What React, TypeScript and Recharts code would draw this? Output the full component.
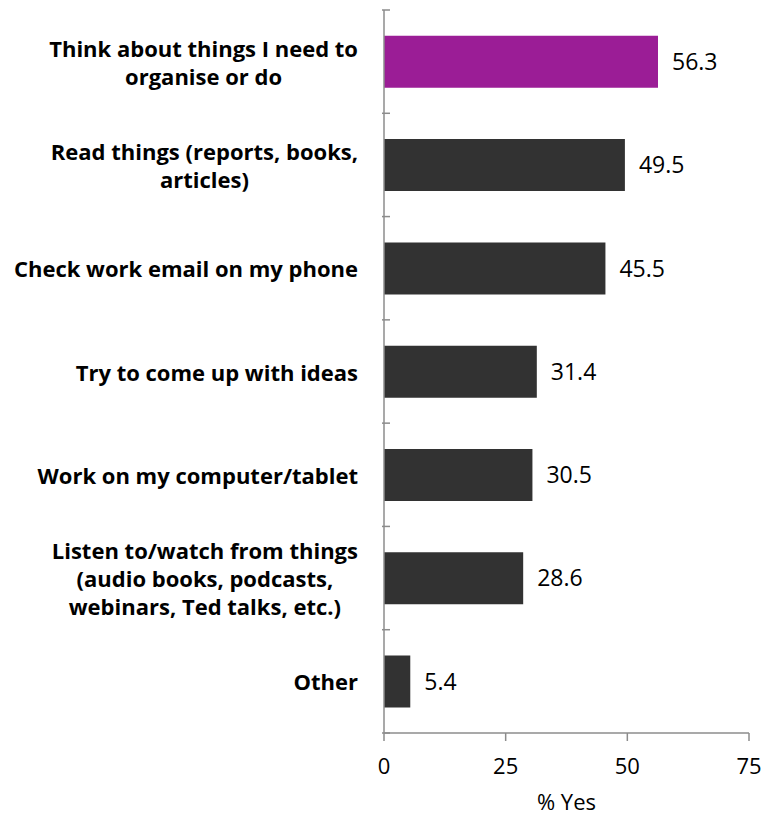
import React from "react";
import { BarChart, Bar, XAxis, YAxis, Cell, LabelList } from "recharts";

const categories = [
  "Think about things I need to\norganise or do",
  "Read things (reports, books,\narticles)",
  "Check work email on my phone",
  "Try to come up with ideas",
  "Work on my computer/tablet",
  "Listen to/watch from things\n(audio books, podcasts,\nwebinars, Ted talks, etc.)",
  "Other",
];
const values = [56.3, 49.5, 45.5, 31.4, 30.5, 28.6, 5.4];
const highlight = [true, false, false, false, false, false, false];
const xTicks = [0, 25, 50, 75];

const data = categories.map((c, i) => ({ name: c, value: values[i], hl: highlight[i] }));

const W = 764;
const H = 819;
const M = { top: 10, right: 15, bottom: 0, left: 0 };
const XH = 86;
const YW = 384;
const FONT = "'Open Sans', Lato, sans-serif";
const AXIS = "#8c8c8c";
const PURPLE = "#9b1d96";
const DARK = "#323232";

let ctx: CanvasRenderingContext2D | null = null;
function measure(t: string, font: string) {
  if (!ctx) {
    const c = document.createElement("canvas");
    ctx = c.getContext("2d");
  }
  if (!ctx) return t.length * 10;
  ctx.font = font;
  return ctx.measureText(t).width;
}

const LABEL_SIZE = 22;
const LINE_H = 28;
const plotH = H - M.top - M.bottom - XH;
const band = plotH / categories.length;

const YTick = (props: any) => {
  const { x, y, payload, index } = props;
  const lines = String(payload.value).split("\n");
  const font = `bold ${LABEL_SIZE}px ${FONT}`;
  const maxW = Math.max(...lines.map((l) => measure(l, font)));
  const rightEdge = x - 24;
  const cx = rightEdge - maxW / 2;
  const startY = y - ((lines.length - 1) * LINE_H) / 2;
  const axisX = x + 8;
  return (
    <g>
      <line x1={axisX - 8} x2={axisX} y1={y - band / 2} y2={y - band / 2} stroke={AXIS} strokeWidth={1.5} />
      {index === categories.length - 1 && (
        <line x1={axisX - 8} x2={axisX} y1={y + band / 2} y2={y + band / 2} stroke={AXIS} strokeWidth={1.5} />
      )}
      <text
        x={cx}
        y={startY}
        textAnchor="middle"
        dominantBaseline="central"
        fontFamily={FONT}
        fontWeight="bold"
        fontSize={LABEL_SIZE}
        fill="#000"
      >
        {lines.map((l, i) => (
          <tspan key={i} x={cx} y={startY + i * LINE_H} dominantBaseline="central">
            {l}
          </tspan>
        ))}
      </text>
    </g>
  );
};

export default function App() {
  return (
    <div style={{ position: "absolute", left: 0, top: 0, width: W, height: H, background: "#fff" }}>
      <BarChart width={W} height={H} data={data} layout="vertical" margin={M} barCategoryGap="25%">
        <XAxis
          type="number"
          domain={[0, 75]}
          ticks={xTicks}
          height={XH}
          stroke={AXIS}
          strokeWidth={1.5}
          tickSize={8}
          tickMargin={17}
          tick={{ fill: "#000", fontSize: 22, fontFamily: FONT }}
          label={{ value: "% Yes", position: "insideBottom", offset: 9, fill: "#000", fontSize: 22, fontFamily: FONT }}
        />
        <YAxis
          type="category"
          dataKey="name"
          width={YW}
          stroke={AXIS}
          strokeWidth={1.5}
          tickLine={false}
          tickSize={0}
          interval={0}
          tick={<YTick />}
        />
        <Bar dataKey="value" isAnimationActive={false}>
          {data.map((d, i) => (
            <Cell key={i} fill={d.hl ? PURPLE : DARK} />
          ))}
          <LabelList dataKey="value" position="right" offset={14} fill="#000" fontSize={23} fontFamily={FONT} />
        </Bar>
      </BarChart>
    </div>
  );
}
